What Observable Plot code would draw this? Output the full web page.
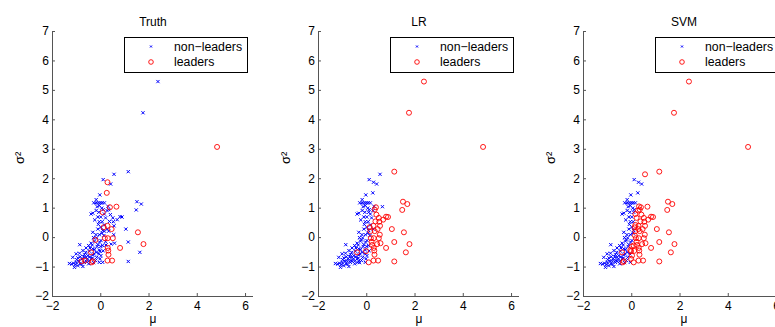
<!DOCTYPE html>
<html>
<head>
<meta charset="utf-8">
<script src="https://cdn.jsdelivr.net/npm/d3@7"></script>
<script src="https://cdn.jsdelivr.net/npm/@observablehq/plot@0.6"></script>
<style>
  html, body { margin: 0; padding: 0; background: #fff; }
  #wrap { position: relative; width: 775px; height: 327px; overflow: hidden; background: #fff; font-family: "Liberation Sans", Arial, Helvetica, sans-serif; }
  .panel { position: absolute; top: 0; width: 266px; height: 327px; }
  .panel svg { max-width: none !important; }
  .legend { position: absolute; top: 0; }
</style>
</head>
<body>
<div id="wrap"></div>
<script>
// ---- data ----
const panelTitles = ["Truth", "LR", "SVM"];
const legendLabels = ["non\u2212leaders", "leaders"];
const xTicks = [-2, 0, 2, 4, 6];
const yTicks = [-2, -1, 0, 1, 2, 3, 4, 5, 6, 7];

const mu = [
  2.37, 1.75, 4.82, 1.14, 0.55, 0.10, 0.28, 0.41, 0.25, -0.04,
  1.50, 1.68, 1.47, 1.04, 1.14, 1.62, 1.14, 1.54, 1.77, 0.80,
  0.65, 0.38, 0.08, 0.28, 0.45, 0.17, 0.29, 0.50, 0.29, 0.31,
  0.32, 0.28, 0.47, -0.33, -0.37, -0.66, -0.80, -0.40, -0.22, 0.12,
  0.80, 0.88, 0.68, 0.50, 0.40, 0.52, 0.36, 0.33, 0.55, 0.33,
  0.15, 0.54, 0.20, 0.57, 0.43, 0.22, -0.03, 0.08, -0.19, -0.29,
  -0.19, -0.10, -0.02, 0.06, 0.15, -0.06, 0.04, 0.30, 0.26, -0.33,
  -0.19, -0.40, -0.08, 0.20, 0.06, -0.06, 0.15, 0.01, -0.12, 0.27,
  -0.33, 0.08, -0.06, 0.13, -0.17, 0.01, -0.26, -0.40, -0.50, -0.12,
  0.08, -0.87, -0.61, -0.33, -0.06, -0.74, -0.47, -0.19, 0.01, -0.03,
  -1.02, -0.88, -0.68, -0.54, -0.33, -0.17, -1.16, -0.95, -0.77, -0.61,
  -0.40, -0.22, -1.30, -1.13, -1.02, -0.86, -0.68, -0.50, -1.09, -0.95,
  -0.74, -0.06, -1.20, -0.90, -0.80, -0.60, -0.55, -0.45, -0.35, -0.28,
  -0.25, -0.15, -0.05, -0.20, -0.10, 0.00, -0.25, 0.10, -0.15, -0.45,
  -0.70, -1.00, -0.85, -0.62, -0.35, -0.30, 0.05, -0.08, 0.10, -0.50,
  -1.05, -0.30, 0.00, -0.12, 0.15
];
const sigma2 = [
  5.30, 4.24, 3.08, 2.24, 2.15, 1.97, 1.88, 1.82, 1.52, 1.45,
  1.22, 1.14, 0.94, 0.29, -0.15, -0.50, -0.81, 0.18, -0.22, -0.35,
  1.05, 1.03, 0.86, 0.40, 0.29, -0.02, -0.02, -0.02, -0.35, -0.44,
  -0.58, -0.78, -0.78, -0.80, -0.84, -0.78, -0.80, -0.50, -0.08, 0.35,
  0.71, 0.70, 0.61, 0.67, 0.78, 0.54, 0.55, 0.95, 0.40, 0.22,
  0.22, 0.10, -0.14, -0.19, -0.22, -0.25, -0.46, -0.84, 1.29, 1.18,
  1.18, 1.18, 1.18, 1.18, 1.18, 1.09, 1.00, 1.06, 0.92, 0.83,
  0.92, 0.80, 0.86, 0.67, 0.54, 0.54, 0.43, 0.35, 0.29, 0.29,
  0.18, 0.24, 0.10, 0.07, -0.01, -0.10, -0.12, -0.19, -0.27, -0.24,
  -0.27, -0.24, -0.35, -0.38, -0.42, -0.44, -0.46, -0.50, -0.61, -0.72,
  -0.55, -0.53, -0.58, -0.61, -0.59, -0.67, -0.67, -0.69, -0.72, -0.67,
  -0.72, -0.78, -0.88, -0.87, -0.84, -0.89, -0.84, -0.89, -1.01, -0.95,
  -0.98, -0.84, -0.90, -0.80, -0.90, -0.80, -0.72, -0.65, -0.70, -0.55,
  -0.40, -0.30, -0.15, 0.10, 0.45, 0.70, 0.60, 0.95, 1.05, -0.35,
  -0.65, -0.75, -0.65, -0.50, -0.25, 0.00, 0.15, -0.55, -0.45, -0.80,
  -0.92, -0.85, -0.30, 0.70, 0.80
];
// 1 = leader, 0 = non-leader
const truth = [
  0,0,1,0,0,0,1,0,1,0, 0,0,0,0,0,0,0,1,1,1, 1,1,1,1,1,1,1,1,1,1,
  1,1,1,1,1,1,1,1,1,1, 0,0,0,0,0,0,0,0,0,0, 0,0,0,0,0,0,0,0,0,0,
  0,0,0,0,0,0,0,0,0,0, 0,0,0,0,0,0,0,0,0,0, 0,0,0,0,0,0,0,0,0,0,
  0,0,0,0,0,0,0,0,0,0, 0,0,0,0,0,0,0,0,0,0, 0,0,0,0,0,0,0,0,0,0,
  0,0,0,0,0,0,0,0,0,0, 0,0,0,0,0,0,0,0,0,0, 0,0,0,0,0,0,0,0,0,0,
  0,0,0,0,0
];
const lr = [
  1,1,1,1,0,0,0,0,0,0, 1,1,1,1,1,1,1,1,1,1, 0,1,0,1,1,1,1,1,1,1,
  1,1,1,0,0,0,0,1,0,1, 1,1,1,1,1,1,1,1,1,1, 1,1,1,1,1,1,1,1,0,0,
  0,0,0,0,0,0,0,0,0,0, 0,0,0,0,0,0,0,0,0,0, 0,0,0,0,0,0,0,0,0,0,
  0,0,0,0,0,0,0,0,0,0, 0,0,0,0,0,0,0,0,0,0, 0,0,0,0,0,0,0,0,0,0,
  0,0,0,0,0,0,0,0,0,0, 0,0,0,0,0,0,0,0,0,0, 0,0,0,0,0,0,0,0,0,0,
  0,0,0,0,0
];
const svm = [
  1,1,1,1,1,0,0,0,0,0, 1,1,1,1,1,1,1,1,1,1, 1,1,0,1,1,1,1,1,1,1,
  1,1,1,1,1,0,0,1,0,1, 1,1,1,1,1,1,1,1,1,1, 1,1,1,1,1,1,1,1,0,0,
  0,0,0,0,0,0,0,1,1,0, 0,0,0,1,0,0,1,0,0,1, 0,0,0,1,0,0,0,0,0,0,
  1,0,0,0,1,0,0,0,1,1, 0,0,0,0,0,0,0,0,0,0, 0,0,0,0,0,0,0,0,0,0,
  0,0,0,0,0,0,0,0,0,0, 0,0,0,0,0,0,0,0,0,0, 0,0,0,0,0,0,0,0,1,0,
  0,0,1,0,1
];
const panelLabels = [truth, lr, svm];

const BLUE = "#0000ff", RED = "#ff0000";
const panelOffsets = [0, 265.5, 531];

function panel(title, labels) {
  const pts = mu.map((m, i) => ({mu: m, s: sigma2[i], lead: labels[i]}));
  return Plot.plot({
    width: 266,
    height: 327,
    marginLeft: 52,
    marginRight: 13,
    marginTop: 31,
    marginBottom: 31,
    style: {fontFamily: "'Liberation Sans', Arial, Helvetica, sans-serif", fontSize: "12px", background: "transparent", color: "#000", maxWidth: "none"},
    x: {domain: [-2, 6.33]},
    y: {domain: [-2, 7]},
    marks: [
      Plot.ruleX([-2], {stroke: "#555", strokeWidth: 1}),
      Plot.ruleY([-2], {stroke: "#555", strokeWidth: 1}),
      Plot.axisX({ticks: xTicks, tickSize: -3, tickPadding: 8, label: null, stroke: "#555", fontSize: 12}),
      Plot.axisY({ticks: yTicks, tickSize: -3, tickPadding: 6.5, label: null, stroke: "#555", fontSize: 12}),
      Plot.dot(pts.filter(d => d.lead === 0), {x: "mu", y: "s", symbol: "times", r: 1.6, stroke: BLUE, strokeWidth: 1}),
      Plot.dot(pts.filter(d => d.lead === 1), {x: "mu", y: "s", r: 2.5, stroke: RED, fill: "none", strokeWidth: 0.9}),
      Plot.text([title], {frameAnchor: "top", dy: -14, fontSize: 12, fill: "#000"}),
      Plot.text(["\u03bc"], {frameAnchor: "bottom", dy: 26, fontSize: 12, fill: "#000"}),
      Plot.text(["\u03c3\u00b2"], {frameAnchor: "left", dx: -33, rotate: -90, fontSize: 13, fill: "#000"})
    ]
  });
}

function legend() {
  const svg = d3.create("svg").attr("width", 126).attr("height", 38)
    .style("font-family", "'Liberation Sans', Arial, Helvetica, sans-serif");
  svg.append("rect").attr("x", 0.5).attr("y", 0.5).attr("width", 123).attr("height", 35)
    .attr("fill", "#fff").attr("stroke", "#000").attr("stroke-width", 1);
  svg.append("path").attr("d", "M26,8.5L28,10.5M26,10.5L28,8.5").attr("stroke", BLUE).attr("stroke-width", 1);
  svg.append("circle").attr("cx", 27).attr("cy", 25).attr("r", 2.3).attr("fill", "none").attr("stroke", RED).attr("stroke-width", 0.9);
  svg.append("text").attr("x", 50).attr("y", 10).attr("dy", "0.35em").attr("font-size", 12.3).text(legendLabels[0]);
  svg.append("text").attr("x", 50).attr("y", 25).attr("dy", "0.35em").attr("font-size", 12.3).text(legendLabels[1]);
  return svg.node();
}

const wrap = document.getElementById("wrap");
panelTitles.forEach((t, i) => {
  const div = document.createElement("div");
  div.className = "panel";
  div.style.left = panelOffsets[i] + "px";
  div.appendChild(panel(t, panelLabels[i]));
  wrap.appendChild(div);
  const lg = document.createElement("div");
  lg.className = "legend";
  lg.style.left = (panelOffsets[i] + 124) + "px";
  lg.style.top = "37px";
  lg.appendChild(legend());
  wrap.appendChild(lg);
});
</script>
</body>
</html>
